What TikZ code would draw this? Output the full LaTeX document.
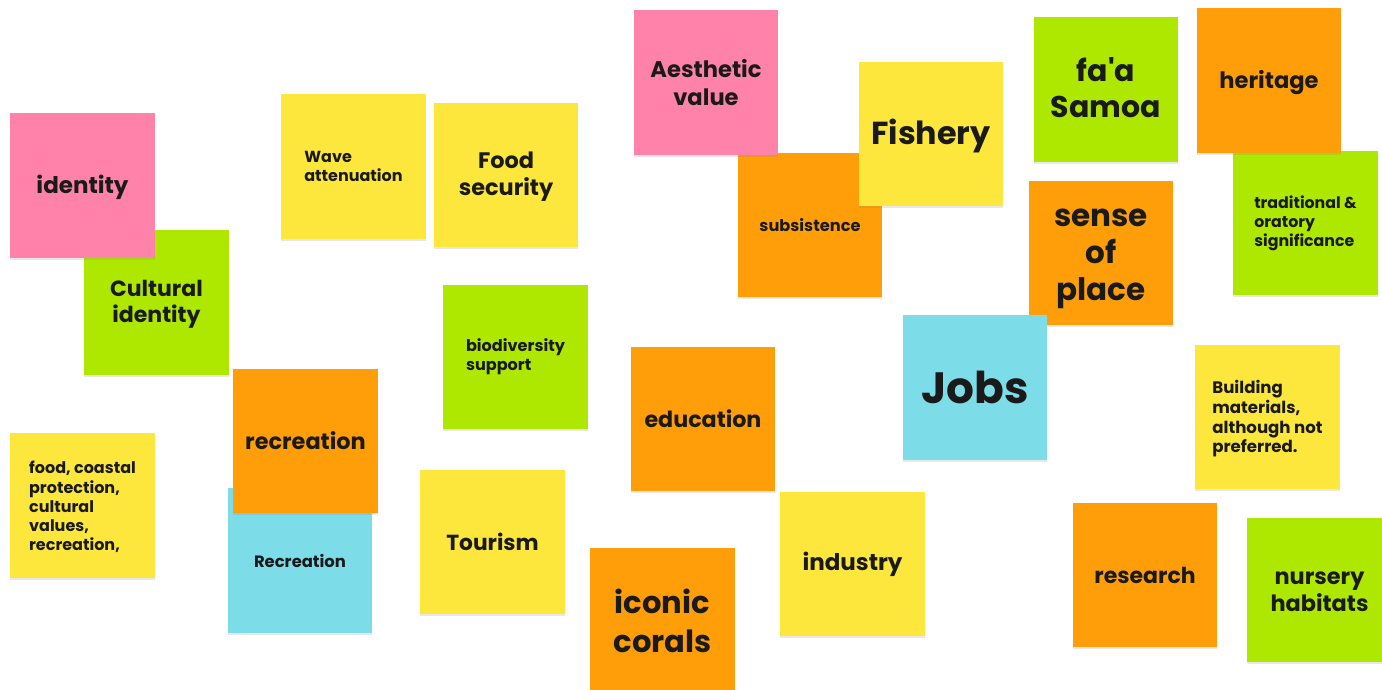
\documentclass[tikz,border=0pt]{standalone}
\usepackage{fontspec}
\setmainfont{Poppins}
\usetikzlibrary{shadows}
\definecolor{npink}{HTML}{FF82AA}
\definecolor{ngreen}{HTML}{AEE800}
\definecolor{nyellow}{HTML}{FDE73C}
\definecolor{norange}{HTML}{FF9E08}
\definecolor{nblue}{HTML}{7CDCE8}
\definecolor{ink}{HTML}{1A1A1A}
\newcommand\nf[1]{\bfseries\fontsize{#1}{\fpeval{#1*1.2}}\selectfont}
\newcommand\nfw[1]{\bfseries\fontsize{#1}{\fpeval{#1*1.27}}\selectfont}
\tikzset{
  note/.style={draw=none, minimum width=72.25pt, minimum height=72.25pt,
    inner sep=0pt,
    drop shadow={shadow xshift=0pt, shadow yshift=-1pt, opacity=0.18}},
  txt/.style={inner sep=0pt, text=ink, align=center},
  small/.style={align=left},
  lower/.style={yshift=-#1}
}
\begin{document}
\begin{tikzpicture}[x=0.5pt,y=-0.5pt]
\useasboundingbox[fill=white] (0,0) rectangle (1382,690);
% left column
\node[note, fill=ngreen] (cult) at (156.5,302.5) {};
\node[txt, font=\nf{11}, lower=1pt] (cultT) at (cult) {Cultural\\identity};
\node[note, fill=npink] (ident) at (82.5,185.5) {};
\node[txt, font=\nf{11.5}, lower=1pt] (identT) at (ident) {identity};
\node[note, fill=nyellow] (wave) at (353.5,166.5) {};
\node[txt, small, font=\nf{8}] (waveT) at (wave) {Wave\\attenuation};
\node[note, fill=nyellow] (foodsec) at (506,175) {};
\node[txt, font=\nf{11.2}, lower=1pt] (foodsecT) at (foodsec) {Food\\security};
\node[note, fill=ngreen] (biodiv) at (515.5,357) {};
\node[txt, small, font=\nf{8.05}] (biodivT) at (biodiv) {biodiversity\\support};
\node[note, fill=nblue] (recB) at (300,560.5) {};
\node[txt, font=\nf{8.2}] (recBT) at (recB) {Recreation};
\node[note, fill=norange] (recO) at (305.5,441) {};
\node[txt, font=\nf{11.2}] (recOT) at (recO) {recreation};
\node[note, fill=nyellow] (foodc) at (82.5,505.5) {};
\node[txt, small, font=\nf{8}, lower=0.8pt] (foodcT) at (foodc) {food, coastal\\protection,\\cultural\\values,\\recreation,};
\node[note, fill=nyellow] (tour) at (492.5,542) {};
\node[txt, font=\nf{10.9}] (tourT) at (tour) {Tourism};
% middle
\node[note, fill=norange] (subs) at (810,225) {};
\node[txt, font=\nf{8.1}] (subsT) at (subs) {subsistence};
\node[note, fill=npink] (aest) at (706,82.5) {};
\node[txt, font=\nf{11.3}] (aestT) at (aest) {Aesthetic\\value};
\node[note, fill=nyellow] (fish) at (931,134) {};
\node[txt, font=\nf{15.9}, lower=1pt] (fishT) at (fish) {Fishery};
\node[note, fill=norange] (edu) at (703,419) {};
\node[txt, font=\nf{11.1}] (eduT) at (edu) {education};
\node[note, fill=norange] (coral) at (662.5,620.5) {};
\node[txt, font=\nfw{15.3}] (coralT) at (coral) {iconic\\corals};
\node[note, fill=nyellow] (indus) at (852.5,564) {};
\node[txt, font=\nf{11.5}] (indusT) at (indus) {industry};
% right
\node[note, fill=norange] (sense) at (1101,253) {};
\node[txt, font=\nf{15.5}, lower=3pt] (senseT) at (sense) {sense\\of\\place};
\node[note, fill=nblue] (jobs) at (975,387.5) {};
\node[txt, font=\nf{21.9}] (jobsT) at (jobs) {Jobs};
\node[note, fill=ngreen] (faa) at (1106,89.5) {};
\node[txt, font=\nf{15}, lower=-0.7pt] (faaT) at (faa) {fa\textquotesingle a\\Samoa};
\node[note, fill=ngreen] (trad) at (1305.5,223) {};
\node[txt, small, font=\nf{7.9}] (tradT) at (trad) {traditional \&\\oratory\\significance};
\node[note, fill=norange] (herit) at (1269,80.5) {};
\node[txt, font=\nf{11.3}, lower=1pt] (heritT) at (herit) {heritage};
\node[note, fill=nyellow] (build) at (1267.5,417) {};
\node[txt, small, font=\nf{8.3}, lower=0.8pt] (buildT) at (build) {Building\\materials,\\although not\\preferred.};
\node[note, fill=norange] (res) at (1145,575) {};
\node[txt, font=\nf{11}] (resT) at (res) {research};
\node[note, fill=ngreen] (nurs) at (1319.5,590) {};
\node[txt, font=\nf{11.2}, lower=1pt] (nursT) at (nurs) {nursery\\habitats};
\end{tikzpicture}
\end{document}
